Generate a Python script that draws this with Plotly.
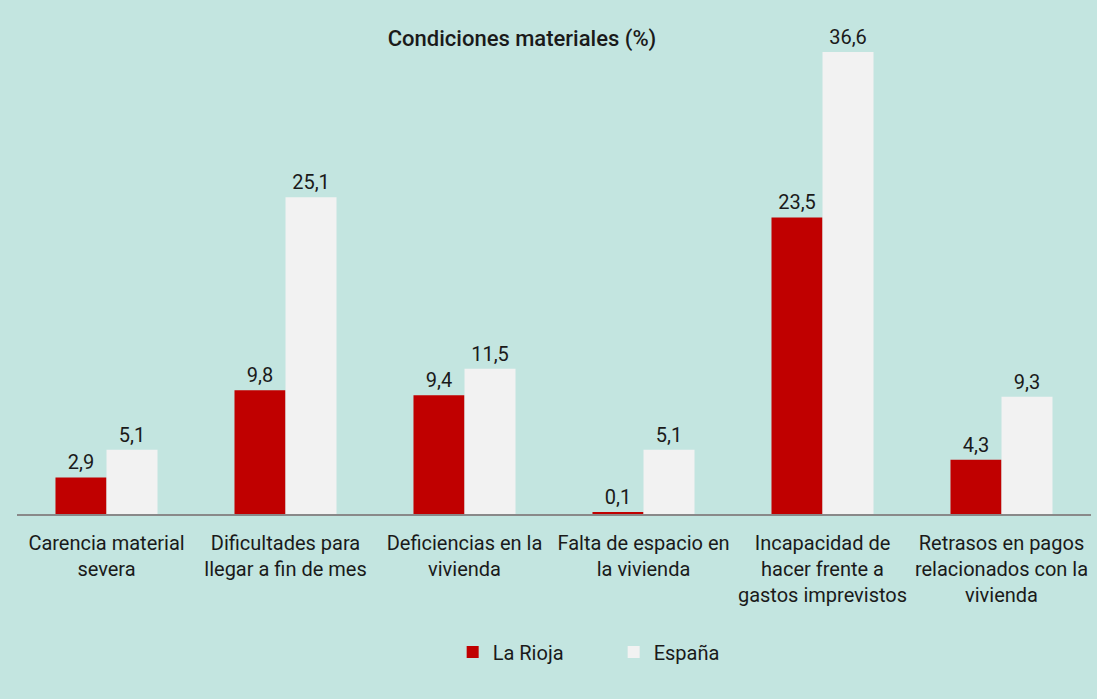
import plotly.graph_objects as go

categories = [
    "Carencia material<br>severa",
    "Dificultades para<br>llegar a fin de mes",
    "Deficiencias en la<br>vivienda",
    "Falta de espacio en<br>la vivienda",
    "Incapacidad de<br>hacer frente a<br>gastos imprevistos",
    "Retrasos en pagos<br>relacionados con la<br>vivienda",
]
la_rioja = [2.9, 9.8, 9.4, 0.1, 23.5, 4.3]
espana = [5.1, 25.1, 11.5, 5.1, 36.6, 9.3]

BG = "#C3E5E0"
FONT = "Roboto"
W, H = 1097, 699

fig = go.Figure()
fig.add_trace(go.Bar(
    x=categories, y=la_rioja, name="La Rioja",
    marker=dict(color="#C00000", line=dict(width=0)),
    texttemplate="%{y:.1f}", textposition="outside",
    textfont=dict(size=20, color="#1a1a1a", family=FONT),
    cliponaxis=False,
))
fig.add_trace(go.Bar(
    x=categories, y=espana, name="España",
    marker=dict(color="#F2F2F2", line=dict(width=0)),
    texttemplate="%{y:.1f}", textposition="outside",
    textfont=dict(size=20, color="#1a1a1a", family=FONT),
    cliponaxis=False,
))

fig.update_layout(
    width=W, height=H,
    paper_bgcolor=BG, plot_bgcolor=BG,
    separators=",.",
    barmode="group", bargap=0.43, bargroupgap=0,
    margin=dict(l=17, r=6, t=40, b=185),
    font=dict(family=FONT, size=20, color="#1a1a1a"),
    title=dict(text="Condiciones materiales (%)", x=522 / W, xanchor="center",
               y=1 - 38 / H, yanchor="middle",
               font=dict(family=FONT, size=22, color="#1a1a1a", weight=500)),
    xaxis=dict(showline=True, linecolor="#898989", linewidth=2,
               showgrid=False, ticks="", ticklabelstandoff=10,
               tickfont=dict(size=20, family=FONT)),
    yaxis=dict(visible=False, range=[0, 37.56], showgrid=False, zeroline=False),
    legend=dict(orientation="h", x=445 / W, xanchor="left",
                y=1 - 652 / H, yref="container", yanchor="middle",
                font=dict(size=20, family=FONT), entrywidth=116,
                itemwidth=30, itemsizing="constant", bgcolor="rgba(0,0,0,0)"),
    showlegend=True,
)

fig.write_html("out.html", config={"displayModeBar": False},
               post_script="document.body.style.margin='0';document.body.style.padding='0';")
